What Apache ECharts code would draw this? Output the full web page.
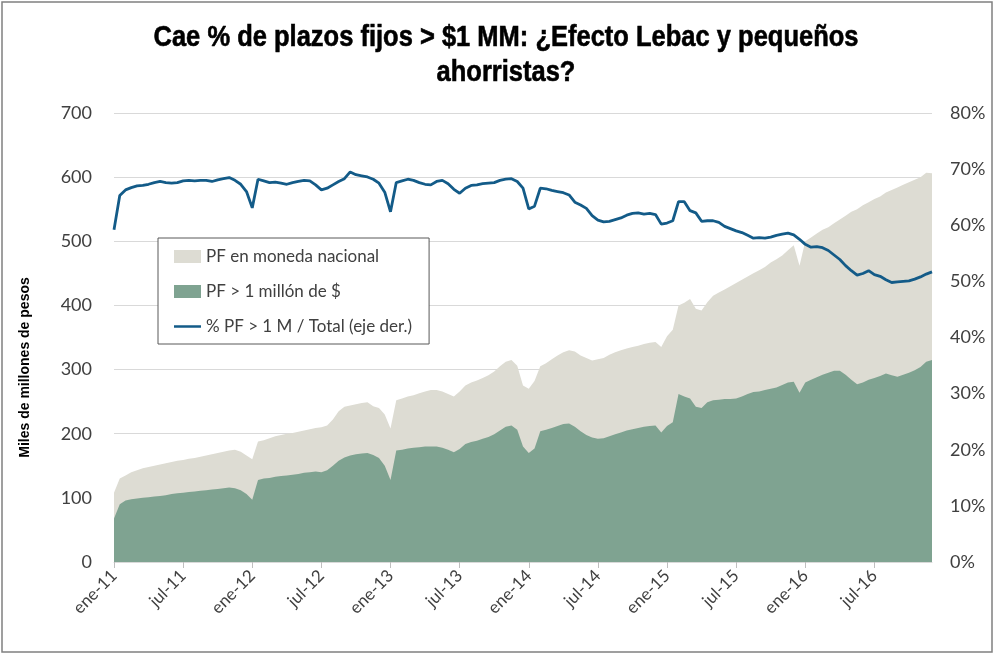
<!DOCTYPE html>
<html>
<head>
<meta charset="utf-8">
<script src="https://cdn.jsdelivr.net/npm/echarts@6/dist/echarts.min.js"></script>
<style>
  html, body { margin: 0; padding: 0; background: #fff; }
  #chart { width: 995px; height: 655px; }
</style>
</head>
<body>
<div id="chart"></div>
<script>
// fechas quincenales: 1 y 16 de cada mes, ene-2011 a dic-2016
const fechas = [];
for (let y = 2011; y <= 2016; y++) {
    for (let m = 1; m <= 12; m++) {
        for (const d of ['01', '16']) {
            if (fechas.length < 143) fechas.push(`${y}-${String(m).padStart(2, '0')}-${d}`);
        }
    }
}
const meses = ['ene', 'feb', 'mar', 'abr', 'may', 'jun', 'jul', 'ago', 'sep', 'oct', 'nov', 'dic'];

// PF en moneda nacional (miles de millones de $)
const pfTotal = [
    108, 130, 135, 140, 143, 146, 148, 150, 152, 154, 156, 158,
    159, 161, 162, 164, 166, 168, 170, 172, 174, 175, 172, 166,
    160, 188, 190, 193, 196, 198, 200, 201, 203, 205, 207, 209,
    210, 213, 222, 235, 242, 244, 246, 248, 249, 243, 240, 230,
    208, 252, 255, 258, 260, 263, 266, 268, 268, 266, 262, 258,
    266, 275, 280, 283, 287, 291, 297, 305, 312, 315, 306, 275,
    270, 282, 305, 310, 316, 322, 327, 330, 328, 322, 318, 314,
    316, 318, 323, 327, 330, 333, 335, 337, 340, 342, 343, 335,
    352, 362, 400, 404, 410, 395, 392, 405, 415, 420, 425, 430,
    435, 440, 445, 450, 455, 460, 467, 472, 478, 486, 494, 462,
    500, 506, 512, 518, 522, 528, 534, 540, 546, 550, 556, 561,
    566, 570, 576, 580, 584, 588, 592, 596, 600, 607, 606
];

// PF > 1 millón de $ (miles de millones de $)
const pfGrandes = [
    68, 90, 96, 98, 99, 100, 101, 102, 103, 104, 106, 107,
    108, 109, 110, 111, 112, 113, 114, 115, 116, 115, 112, 106,
    97, 128, 130, 131, 133, 134, 135, 136, 137, 139, 140, 141,
    140, 143, 150, 158, 163, 166, 168, 169, 170, 167, 162, 150,
    128, 174, 175, 177, 178, 179, 180, 180, 180, 178, 175, 171,
    176, 184, 187, 189, 192, 195, 199, 205, 211, 213, 206, 180,
    170, 177, 204, 206, 209, 212, 215, 216, 211, 204, 198, 194,
    192, 193, 196, 199, 202, 205, 207, 209, 211, 212, 213, 202,
    212, 218, 262, 258, 255, 242, 240, 249, 252, 253, 254, 254,
    255, 258, 262, 265, 266, 268, 270, 272, 276, 280, 281, 264,
    280, 284, 288, 292, 295, 298, 298, 292, 284, 277, 280, 284,
    287, 290, 294, 291, 289, 292, 295, 299, 304, 312, 315
];

// % PF > 1 M / Total (eje der.)
const pctGrandes = [
    59.2, 65.3, 66.3, 66.7, 67.0, 67.1, 67.3, 67.6, 67.8, 67.6, 67.5, 67.6,
    67.9, 68.0, 67.9, 68.0, 68.0, 67.8, 68.1, 68.3, 68.5, 68.0, 67.3, 66.0,
    63.1, 68.2, 67.9, 67.6, 67.7, 67.5, 67.3, 67.6, 67.8, 68.0, 67.9, 67.2,
    66.3, 66.6, 67.2, 67.8, 68.3, 69.5, 69.0, 68.8, 68.6, 68.2, 67.5, 65.9,
    62.4, 67.6, 67.9, 68.2, 68.0, 67.6, 67.3, 67.2, 67.8, 68.0, 67.4, 66.4,
    65.7, 66.6, 67.1, 67.2, 67.4, 67.5, 67.6, 68.0, 68.2, 68.3, 67.8, 66.6,
    62.9, 63.4, 66.6, 66.5, 66.2, 66.0, 65.8, 65.4, 64.1, 63.6, 63.0, 61.7,
    60.9, 60.6, 60.7, 61.0, 61.3, 61.8, 62.1, 62.2, 62.0, 62.1, 61.9, 60.2,
    60.4, 60.8, 64.2, 64.2, 62.6, 62.2, 60.7, 60.8, 60.8, 60.5, 59.8, 59.4,
    59.0, 58.7, 58.2, 57.7, 57.8, 57.7, 57.9, 58.2, 58.4, 58.6, 58.3, 57.5,
    56.6, 56.1, 56.2, 56.0, 55.5, 54.7, 53.9, 52.8, 51.9, 51.1, 51.4, 51.9,
    51.2, 50.9, 50.3, 49.8, 49.9, 50.0, 50.1, 50.4, 50.8, 51.3, 51.7
];

const esSemestre = (idx, value) => /-(01|07)-01$/.test(value);

const chart = echarts.init(document.getElementById('chart'));

const option = {
    animation: false,
    backgroundColor: '#fff',
    graphic: [
        {
            type: 'rect',
            shape: { x: 2, y: 2, width: 990, height: 650 },
            style: { fill: 'none', stroke: '#808080', lineWidth: 1.5 },
            silent: true
        },
        {
            // título en tipografía condensada
            type: 'text',
            x: 506,
            y: 55,
            scaleX: 0.85,
            style: {
                text: 'Cae % de plazos fijos > $1 MM: ¿Efecto Lebac y pequeños\nahorristas?',
                textAlign: 'center',
                textVerticalAlign: 'middle',
                fontFamily: '"Liberation Sans", Arial, sans-serif',
                fontWeight: 'bold',
                fontSize: 30,
                lineHeight: 35,
                fill: '#000',
                stroke: '#000',
                lineWidth: 0.6
            },
            silent: true
        }
    ],
    legend: {
        orient: 'vertical',
        left: 158,
        top: 238,
        padding: [10, 17, 9, 16],
        itemGap: 18,
        itemWidth: 27,
        itemHeight: 13,
        backgroundColor: '#fff',
        borderColor: '#595959',
        borderWidth: 1,
        textStyle: {
            fontFamily: 'Lato, sans-serif',
            fontSize: 17,
            lineHeight: 17,
            color: '#404040'
        },
        data: [
            { name: 'PF en moneda nacional', icon: 'rect' },
            { name: 'PF > 1 millón de $', icon: 'rect' },
            { name: '% PF > 1 M / Total (eje der.)', icon: 'path://M0,0H27V2.5H0Z' }
        ]
    },
    grid: {
        left: 114,
        right: 63,
        top: 113,
        bottom: 93
    },
    xAxis: {
        type: 'category',
        data: fechas,
        boundaryGap: false,
        axisLine: { lineStyle: { color: '#d9d9d9' } },
        axisTick: {
            interval: esSemestre,
            length: 6,
            lineStyle: { color: '#bfbfbf' }
        },
        axisLabel: {
            interval: esSemestre,
            rotate: 45,
            margin: 11,
            fontFamily: 'Lato, sans-serif',
            fontSize: 17,
            color: '#404040',
            formatter: function (v) {
                const p = v.split('-');
                return meses[+p[1] - 1] + '-' + p[0].slice(2);
            }
        },
        splitLine: { show: false }
    },
    yAxis: [
        {
            type: 'value',
            min: 0,
            max: 700,
            interval: 100,
            name: 'Miles de millones de pesos',
            nameLocation: 'middle',
            nameRotate: 90,
            nameGap: 82,
            nameTextStyle: {
                fontFamily: '"Liberation Sans", Arial, sans-serif',
                fontWeight: 'bold',
                fontSize: 14,
                color: '#000',
                padding: [0, 60, 0, 0]
            },
            axisLine: { show: false },
            axisTick: { show: false },
            axisLabel: {
                margin: 22,
                fontFamily: 'Lato, sans-serif',
                fontSize: 18,
                color: '#404040'
            },
            splitLine: { lineStyle: { color: '#d9d9d9' } }
        },
        {
            type: 'value',
            min: 0,
            max: 80,
            interval: 10,
            position: 'right',
            axisLine: { show: false },
            axisTick: { show: false },
            axisLabel: {
                margin: 18,
                formatter: '{value}%',
                fontFamily: 'Lato, sans-serif',
                fontSize: 18,
                color: '#404040'
            },
            splitLine: { show: false }
        }
    ],
    series: [
        {
            name: 'PF en moneda nacional',
            type: 'line',
            data: pfTotal,
            symbol: 'none',
            lineStyle: { width: 0, color: '#dddcd3' },
            itemStyle: { color: '#dddcd3' },
            areaStyle: { color: '#dddcd3', opacity: 1 },
            z: 1
        },
        {
            name: 'PF > 1 millón de $',
            type: 'line',
            data: pfGrandes,
            symbol: 'none',
            lineStyle: { width: 0, color: '#7fa391' },
            itemStyle: { color: '#7fa391' },
            areaStyle: { color: '#7fa391', opacity: 1 },
            z: 2
        },
        {
            name: '% PF > 1 M / Total (eje der.)',
            type: 'line',
            yAxisIndex: 1,
            data: pctGrandes,
            symbol: 'none',
            lineStyle: { width: 2.8, color: '#135b88' },
            itemStyle: { color: '#135b88' },
            z: 3
        }
    ]
};

chart.setOption(option);
</script>
</body>
</html>
